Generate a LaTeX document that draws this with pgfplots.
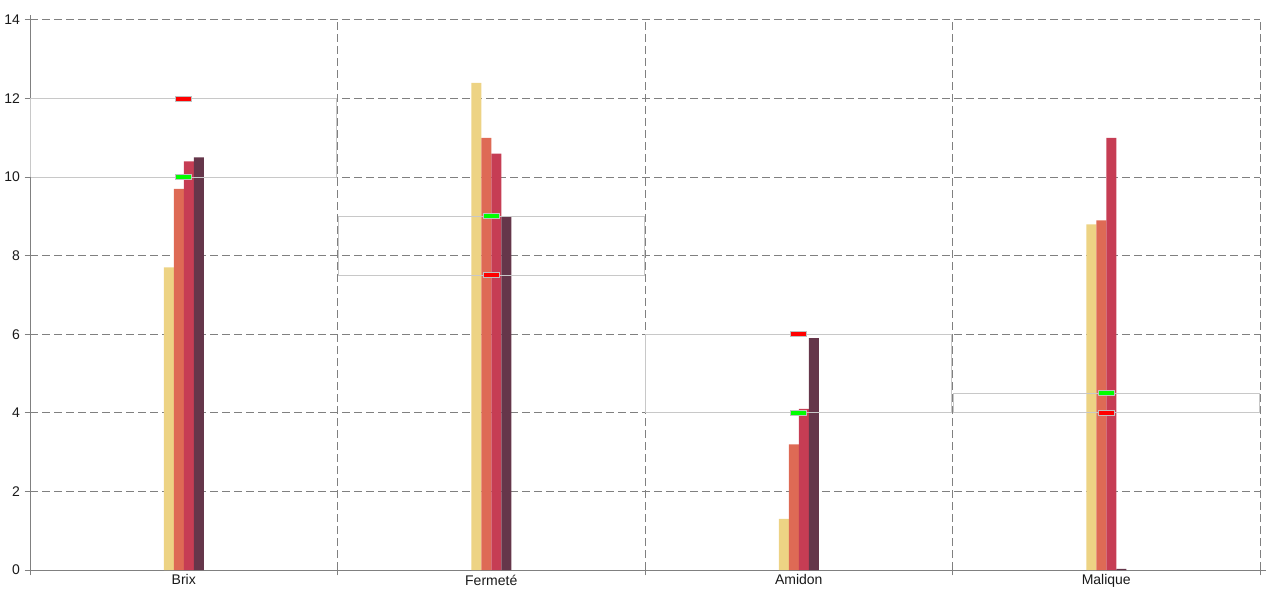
\documentclass[border=0pt]{standalone}
\usepackage{pgfplots}
\pgfplotsset{compat=1.18}
\usepackage{fontspec}
\setmainfont{Liberation Sans}
\definecolor{cY}{RGB}{237,211,132}
\definecolor{cO}{RGB}{222,106,85}
\definecolor{cR}{RGB}{198,61,84}
\definecolor{cD}{RGB}{101,54,74}
\definecolor{gridc}{RGB}{128,128,128}
\definecolor{boxc}{RGB}{200,200,200}
\definecolor{mkb}{RGB}{192,192,192}
\definecolor{tgreen}{RGB}{0,255,0}
\definecolor{tred}{RGB}{255,0,0}
\pgfdeclareplotmark{tgt}{%
  \pgfpathrectangle{\pgfpoint{-6pt}{-1.9pt}}{\pgfpoint{12pt}{3.8pt}}%
  \pgfusepathqfillstroke}
\begin{document}
\begin{tikzpicture}[x=1pt,y=1pt]
\useasboundingbox (0,0) rectangle (960,450);
\begin{axis}[
  at={(22.5pt,22.5pt)}, anchor=south west,
  width=922.5pt, height=412.5pt, scale only axis,
  xmin=-0.5, xmax=3.5, ymin=0, ymax=14,
  ytick={0,2,...,14},
  xtick={-0.5,0.5,1.5,2.5,3.5}, xticklabels={},
  extra x ticks={0,1,2,3},
  extra x tick labels={Brix,Fermeté,Amidon,Malique},
  extra x tick style={grid=none, major tick length=0pt},
  grid=major,
  major grid style={draw=gridc, line width=0.75pt, dash pattern=on 6pt off 3pt},
  axis x line=bottom, axis y line=left,
  axis line style={-, draw=gridc, line width=0.75pt},
  x axis line style={shorten >=-4.5pt},
  y axis line style={shorten >=-4pt},
  tick align=outside,
  major tick length=4pt,
  tick style={draw=gridc, line width=0.75pt},
  ticklabel style={font=\fontsize{10.5}{12}\selectfont, text=black!90},
  /pgf/number format/assume math mode=true,
  clip=false,
]
\addplot[ybar, bar width=7.5pt, bar shift=-11.25pt, fill=cY, draw=none] coordinates {(0,7.7)(1,12.4)(2,1.3)(3,8.8)};
\addplot[ybar, bar width=7.5pt, bar shift=-3.75pt, fill=cO, draw=none] coordinates {(0,9.7)(1,11.0)(2,3.2)(3,8.9)};
\addplot[ybar, bar width=7.5pt, bar shift=3.75pt, fill=cR, draw=none] coordinates {(0,10.4)(1,10.6)(2,4.1)(3,11.0)};
\addplot[ybar, bar width=7.5pt, bar shift=11.25pt, fill=cD, draw=none] coordinates {(0,10.5)(1,9.0)(2,5.9)(3,0.03)};
% target ranges
\addplot[draw=boxc, line width=0.75pt, mark=none] coordinates {(-0.497,10)(0.497,10)(0.497,12)(-0.497,12)(-0.497,10)};
\addplot[draw=boxc, line width=0.75pt, mark=none] coordinates {(0.503,7.5)(1.497,7.5)(1.497,9)(0.503,9)(0.503,7.5)};
\addplot[draw=boxc, line width=0.75pt, mark=none] coordinates {(1.503,4)(2.497,4)(2.497,6)(1.503,6)(1.503,4)};
\addplot[draw=boxc, line width=0.75pt, mark=none] coordinates {(2.503,4)(3.497,4)(3.497,4.5)(2.503,4.5)(2.503,4)};
% markers
\addplot[only marks, mark=tgt, mark options={fill=tgreen, draw=mkb, line width=0.75pt}] coordinates {(0,10)(1,9)(2,4)(3,4.5)};
\addplot[only marks, mark=tgt, mark options={fill=tred, draw=mkb, line width=0.75pt}] coordinates {(0,12)(1,7.5)(2,6)(3,4)};
\end{axis}
\end{tikzpicture}
\end{document}
